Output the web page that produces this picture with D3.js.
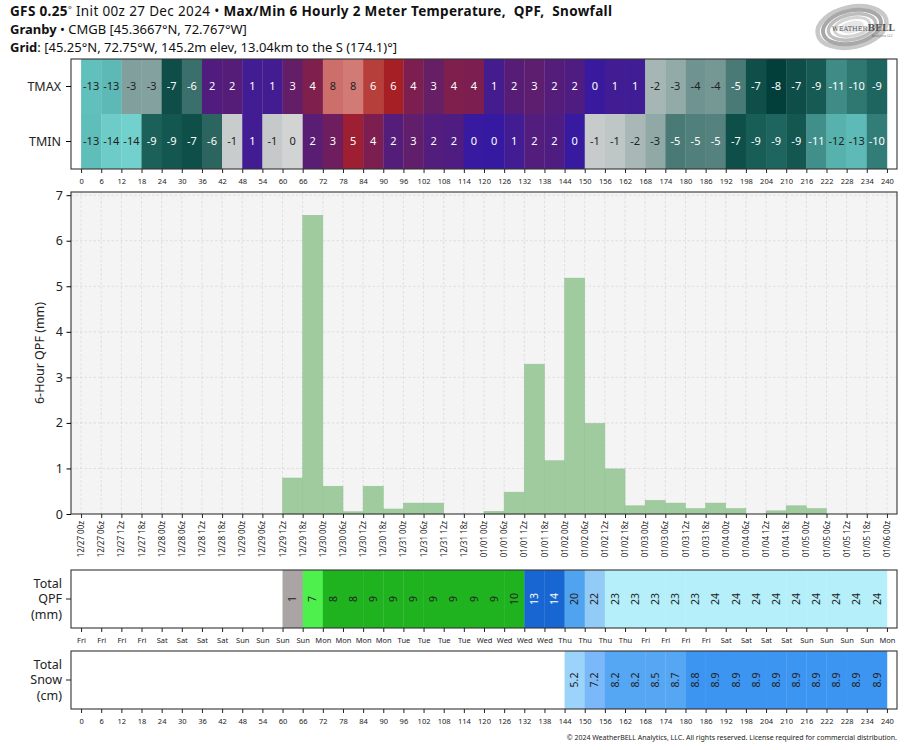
<!DOCTYPE html>
<html>
<head>
<meta charset="utf-8">
<script src="https://cdn.jsdelivr.net/npm/d3@7"></script>
<style>
  body { margin: 0; background: #fff; }
  svg { font-family: "Noto Sans", sans-serif; display: block; }
</style>
</head>
<body>
<div id="chart"></div>
<script>
// model run start
const initTime = Date.UTC(2024, 11, 27, 0);

// forecast hour at the start of each 6 hour period
const periodStart = [0, 6, 12, 18, 24, 30, 36, 42, 48, 54, 60, 66, 72, 78, 84, 90, 96, 102, 108, 114,
  120, 126, 132, 138, 144, 150, 156, 162, 168, 174, 180, 186, 192, 198, 204, 210, 216, 222, 228, 234];

const tickHours = [0, 6, 12, 18, 24, 30, 36, 42, 48, 54, 60, 66, 72, 78, 84, 90, 96, 102, 108, 114,
  120, 126, 132, 138, 144, 150, 156, 162, 168, 174, 180, 186, 192, 198, 204, 210, 216, 222, 228, 234, 240];

// 2 m max / min temperature (C), labels are rounded
const tmax = [-13.2, -12.8, -3.4, -3.3, -7.1, -5.7, 1.9, 2.2, 1.0, 1.1, 3.0, 4.1, 7.8, 8.2, 6.3, 5.6, 4.0, 3.1, 4.1, 4.0,
  1.2, 2.3, 2.6, 2.1, 1.8, 0.3, 1.0, 0.9, -2.1, -2.7, -4.1, -3.9, -5.1, -7.0, -8.0, -7.1, -9.0, -11.0, -10.1, -9.4];
const tmin = [-13.1, -13.8, -14.1, -9.2, -8.9, -7.0, -6.2, -0.8, 1.0, -1.0, -0.3, 2.4, 3.4, 5.1, 4.0, 2.1, 2.8, 2.0, 1.8, 0.2,
  0.1, 1.0, 2.0, 1.8, 0.2, -0.9, -1.2, -2.0, -2.8, -5.1, -4.9, -4.8, -7.0, -9.1, -9.4, -8.9, -11.1, -12.4, -12.9, -10.3];

// 6 hour QPF (mm)
const qpf6h = [0, 0, 0, 0, 0, 0, 0, 0, 0, 0, 0.79, 6.56, 0.61, 0.05, 0.61, 0.11, 0.24, 0.24, 0, 0,
  0.06, 0.48, 3.29, 1.17, 5.18, 1.99, 0.99, 0.18, 0.30, 0.24, 0.12, 0.24, 0.12, 0, 0.07, 0.18, 0.12, 0, 0, 0];

// running totals
const qpfTotal = [0, 0, 0, 0, 0, 0, 0, 0, 0, 0, 1, 7, 8, 8, 9, 9, 9, 9, 9, 9,
  9, 10, 13, 14, 20, 22, 23, 23, 23, 23, 23, 24, 24, 24, 24, 24, 24, 24, 24, 24];
const snowTotal = [0, 0, 0, 0, 0, 0, 0, 0, 0, 0, 0, 0, 0, 0, 0, 0, 0, 0, 0, 0,
  0, 0, 0, 0, 5.2, 7.2, 8.2, 8.2, 8.5, 8.7, 8.8, 8.9, 8.9, 8.9, 8.9, 8.9, 8.9, 8.9, 8.9, 8.9];

const width = 914;
const height = 750;

const svg = d3.select('#chart')
  .append('svg')
  .attr('width', width)
  .attr('height', height);

svg.append('rect').attr('width', width).attr('height', height).attr('fill', '#fff');

const x = d3.scaleLinear().domain([-3, 243]).range([71, 897]);
const cellW = x(6) - x(0);

// panel bounds
const temp = { top: 59, bottom: 169 };
const qpf = { top: 192, bottom: 514 };
const tot = { top: 570, bottom: 628 };
const snow = { top: 651, bottom: 709 };

const tempColor = d3.scaleLinear()
  .domain([-15, -14, -13, -12, -11, -10, -9, -8, -7, -6, -5, -4, -3, -2, -1, -0.001,
    0, 1, 2, 3, 4, 5, 5.6, 6.4, 8, 9])
  .range(['#80dcd8', '#72d0cc', '#5ebcb8', '#52aca8', '#3f8c87', '#2d7670', '#165a53', '#023f3a', '#0f4f49',
    '#336a65', '#4d7c78', '#739694', '#8aa5a2', '#a9b8b6', '#c5c9ca', '#d8d8d8',
    '#3519a2', '#411c93', '#521d7c', '#641e67', '#7c1f50', '#9c1f33', '#a51f25', '#b8443f', '#cf7570', '#dc8c87'])
  .clamp(true);

const qpfColor = d3.scaleThreshold()
  .domain([0.5, 2, 7.5, 12, 19, 21, 22.5])
  .range(['#ffffff', '#aaa4a4', '#4ef04e', '#1fb31f', '#1766d2', '#4fa3ef', '#93cbf7', '#b4effa']);

const snowColor = d3.scaleThreshold()
  .domain([0.05, 6, 7.6, 8.75])
  .range(['#ffffff', '#9bd3fb', '#7ab8f9', '#55a6f3', '#3c95f0']);

function lum(c) {
  const r = d3.rgb(c);
  return 0.299 * r.r + 0.587 * r.g + 0.114 * r.b;
}

function frame(p) {
  svg.append('rect')
    .attr('x', x(-3)).attr('y', p.top)
    .attr('width', x(243) - x(-3)).attr('height', p.bottom - p.top)
    .attr('fill', 'none').attr('stroke', '#333').attr('stroke-width', 1.1);
}

function bottomAxis(p, fmt) {
  const g = svg.append('g')
    .attr('transform', `translate(0,${p.bottom})`)
    .call(d3.axisBottom(x).tickValues(tickHours).tickSize(4).tickPadding(6).tickFormat(fmt));
  g.select('.domain').remove();
  g.selectAll('line').attr('stroke', '#222');
  g.selectAll('text').attr('font-size', 7.5).attr('fill', '#222').attr('font-family', '"Noto Sans", sans-serif');
  return g;
}

function leftLabel(p, lines) {
  const cy = (p.top + p.bottom) / 2;
  svg.append('line').attr('x1', x(-3) - 5).attr('x2', x(-3)).attr('y1', cy).attr('y2', cy).attr('stroke', '#222');
  const t = svg.append('text').attr('text-anchor', 'end').attr('font-size', 12.5).attr('fill', '#222');
  lines.forEach((s, i) => {
    t.append('tspan').attr('x', 62).attr('y', cy + (i - (lines.length - 1) / 2) * 15.5).attr('dy', '0.35em').text(s);
  });
}

// ---------- title ----------
const title = svg.append('g').attr('fill', '#111');
const t1 = title.append('text').attr('x', 10).attr('y', 16).attr('font-size', 13.5)
  .attr('textLength', 602).attr('lengthAdjust', 'spacing');
t1.append('tspan').attr('font-weight', 'bold').text('GFS 0.25');
t1.append('tspan').attr('font-size', 9).attr('dy', -3).text('°');
t1.append('tspan').attr('dy', 3).text(' Init 00z 27 Dec 2024 • ');
t1.append('tspan').attr('font-weight', 'bold').text('Max/Min 6 Hourly 2 Meter Temperature,  QPF,  Snowfall');
const t2 = title.append('text').attr('x', 10).attr('y', 34).attr('font-size', 13);
t2.append('tspan').attr('font-weight', 'bold').text('Granby');
t2.append('tspan').text(' • CMGB [45.3667°N, 72.767°W]');
const t3 = title.append('text').attr('x', 10).attr('y', 52).attr('font-size', 13);
t3.append('tspan').attr('font-weight', 'bold').text('Grid');
t3.append('tspan').text(': [45.25°N, 72.75°W, 145.2m elev, 13.04km to the S (174.1)°]');
title.selectAll('text').attr('xml:space', 'preserve');

// ---------- logo ----------
const logo = svg.append('g').attr('transform', 'translate(852,27) rotate(-12)');
[[35, 20, '#c8c8c8', 4.5], [29.5, 16.5, '#a8a8a8', 4], [24, 12.5, '#bdbdbd', 3.5], [18, 9, '#d4d4d4', 3]].forEach(([rx, ry, c, w]) => {
  logo.append('ellipse').attr('rx', rx).attr('ry', ry).attr('fill', 'none').attr('stroke', c).attr('stroke-width', w);
});
logo.append('ellipse').attr('rx', 12).attr('ry', 6).attr('fill', '#e6e6e6');
const brand = svg.append('text').attr('x', 832).attr('y', 31).attr('font-family', '"DejaVu Serif", serif').attr('fill', '#555');
brand.append('tspan').attr('font-size', 6.5).text('WEATHER');
brand.append('tspan').attr('font-size', 9).attr('font-weight', 'bold').text('BELL');
svg.append('text').attr('x', 893).attr('y', 37).attr('text-anchor', 'end').attr('font-size', 3.5)
  .attr('fill', '#777').text('Analytics LLC');

// ---------- temperature table ----------
const rowY = d3.scaleBand().domain(['TMAX', 'TMIN']).range([temp.top, temp.bottom]);
const rows = [['TMAX', tmax], ['TMIN', tmin]];

rows.forEach(([name, vals]) => {
  const cells = svg.append('g').selectAll('g')
    .data(periodStart.map((h, i) => ({ h, v: vals[i] })))
    .join('g');
  cells.append('rect')
    .attr('x', d => x(d.h)).attr('y', rowY(name))
    .attr('width', cellW + 0.3).attr('height', rowY.bandwidth())
    .attr('fill', d => tempColor(d.v));
  cells.append('text')
    .attr('x', d => x(d.h + 3)).attr('y', rowY(name) + rowY.bandwidth() / 2)
    .attr('dy', '0.35em').attr('text-anchor', 'middle').attr('font-size', 11)
    .attr('fill', d => lum(tempColor(d.v)) > 130 ? '#222' : '#fff')
    .text(d => Math.round(d.v) === 0 ? '0' : Math.round(d.v));
});
frame(temp);
const tempAxis = svg.append('g')
  .attr('transform', `translate(${x(-3)},0)`)
  .call(d3.axisLeft(rowY).tickSize(5).tickPadding(5));
tempAxis.select('.domain').remove();
tempAxis.selectAll('text').attr('font-size', 12.5).attr('fill', '#222').attr('font-family', '"Noto Sans", sans-serif');
bottomAxis(temp, d => d);

// ---------- 6 hour QPF bars ----------
const y = d3.scaleLinear().domain([0, 7.07]).range([qpf.bottom, qpf.top]);

svg.append('rect')
  .attr('x', x(-3)).attr('y', qpf.top)
  .attr('width', x(243) - x(-3)).attr('height', qpf.bottom - qpf.top)
  .attr('fill', '#f4f4f4');

const grid = svg.append('g').attr('stroke', '#d9d9d9').attr('stroke-width', 0.8).attr('stroke-dasharray', '2.5,2');
grid.selectAll('.v').data(tickHours).join('line')
  .attr('x1', d => x(d)).attr('x2', d => x(d)).attr('y1', qpf.top).attr('y2', qpf.bottom);
grid.selectAll('.h').data([1, 2, 3, 4, 5, 6, 7]).join('line')
  .attr('x1', x(-3)).attr('x2', x(243)).attr('y1', d => y(d)).attr('y2', d => y(d));

svg.append('g').selectAll('rect')
  .data(periodStart.map((h, i) => ({ h, v: qpf6h[i] })).filter(d => d.v > 0))
  .join('rect')
  .attr('x', d => x(d.h)).attr('y', d => y(d.v))
  .attr('width', cellW).attr('height', d => y(0) - y(d.v))
  .attr('fill', '#9fcb9f').attr('stroke', '#93c293').attr('stroke-width', 0.5);

frame(qpf);

const yAxis = svg.append('g')
  .attr('transform', `translate(${x(-3)},0)`)
  .call(d3.axisLeft(y).tickValues([0, 1, 2, 3, 4, 5, 6, 7]).tickFormat(d3.format('d')).tickSize(4.5).tickPadding(3.5));
yAxis.select('.domain').remove();
yAxis.selectAll('text').attr('font-size', 12.5).attr('fill', '#222').attr('font-family', '"Noto Sans", sans-serif');

svg.append('text')
  .attr('transform', `translate(40,${(qpf.top + qpf.bottom) / 2}) rotate(-90)`)
  .attr('text-anchor', 'middle').attr('dy', '0.35em').attr('font-size', 12.5).attr('fill', '#222')
  .text('6-Hour QPF (mm)');

const dateFmt = d3.utcFormat('%m/%d %Hz');
const dayFmt = d3.utcFormat('%a');
const toDate = h => new Date(initTime + h * 3600e3);

const dateAxis = bottomAxis(qpf, h => dateFmt(toDate(h)));
dateAxis.selectAll('text')
  .attr('transform', 'rotate(-90)')
  .attr('text-anchor', 'end')
  .attr('x', -7).attr('y', 0).attr('dy', '0.32em')
  .attr('font-size', 8);

// ---------- running totals ----------
function totalRow(p, vals, color, fmt) {
  const cells = svg.append('g').selectAll('g')
    .data(periodStart.map((h, i) => ({ h, v: vals[i] })).filter(d => d.v > 0))
    .join('g');
  cells.append('rect')
    .attr('x', d => x(d.h)).attr('y', p.top)
    .attr('width', cellW + 0.3).attr('height', p.bottom - p.top)
    .attr('fill', d => color(d.v));
  cells.append('text')
    .attr('transform', d => `translate(${x(d.h + 3)},${(p.top + p.bottom) / 2}) rotate(-90)`)
    .attr('text-anchor', 'middle').attr('dy', '0.35em').attr('font-size', 10.5)
    .attr('fill', d => lum(color(d.v)) > 100 ? '#222' : '#fff')
    .text(d => fmt(d.v));
  frame(p);
}

totalRow(tot, qpfTotal, qpfColor, d3.format('d'));
leftLabel(tot, ['Total', 'QPF', '(mm)']);
bottomAxis(tot, h => dayFmt(toDate(h)));

totalRow(snow, snowTotal, snowColor, d3.format('.1f'));
leftLabel(snow, ['Total', 'Snow', '(cm)']);
bottomAxis(snow, d => d);

svg.append('text')
  .attr('x', 897).attr('y', 740).attr('text-anchor', 'end')
  .attr('font-size', 7).attr('fill', '#222')
  .text('© 2024 WeatherBELL Analytics, LLC. All rights reserved. License required for commercial distribution.');
</script>
</body>
</html>
